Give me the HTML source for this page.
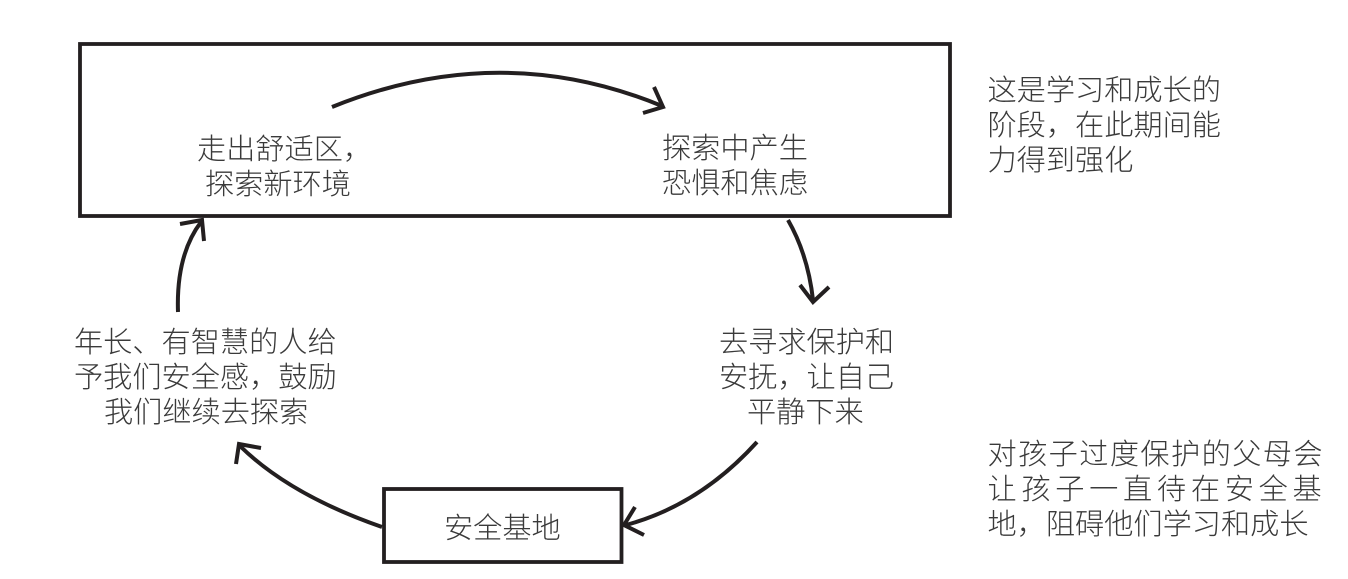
<!DOCTYPE html>
<html lang="zh">
<head>
<meta charset="utf-8">
<style>
html,body{margin:0;padding:0;background:#fff;width:1348px;height:579px;overflow:hidden}
svg{display:block}
text{font-family:"Liberation Sans","Noto Sans CJK SC",sans-serif;font-size:29.2px;font-weight:300;fill:#3a3a3a}
.l{fill:none;stroke:#231f20;stroke-width:4}
.b{fill:none;stroke:#231f20;stroke-width:3.8}
</style>
</head>
<body>
<svg width="1348" height="579" viewBox="0 0 1348 579" xmlns="http://www.w3.org/2000/svg">
<rect class="b" x="80" y="44" width="870" height="172"/>
<rect class="b" x="384" y="489" width="237.500" height="73"/>

<path class="l" d="M332 107Q500 39 662 106"/>
<path class="l" d="M654 87L663 107L643 113"/>
<path class="l" d="M788 220Q808 255 813 300"/>
<path class="l" d="M800 285L813 302L829 287"/>
<path class="l" d="M757 442Q700 505 626 525"/>
<path class="l" d="M635 507L624 525L644 535"/>
<path class="l" d="M382 527Q290 495 240 446"/>
<path class="l" d="M236 464L239 444L261 448"/>
<path class="l" d="M178 312Q176 255 201 222"/>
<path class="l" d="M180 224L202 220L204 241"/>

<text x="197" y="159">走出舒适区&#xFF0C;</text>
<text x="205" y="194">探索新环境</text>
<text x="662" y="158">探索中产生</text>
<text x="662" y="193">恐惧和焦虑</text>
<text x="74" y="352">年长、有智慧的人给</text>
<text x="74" y="387">予我们安全感&#xFF0C;鼓励</text>
<text x="104" y="422">我们继续去探索</text>
<text x="719" y="352">去寻求保护和</text>
<text x="719" y="387">安抚&#xFF0C;让自己</text>
<text x="747" y="422">平静下来</text>
<text x="444" y="538">安全基地</text>
<text x="987.500" y="100">这是学习和成长的</text>
<text x="987.500" y="135">阶段&#xFF0C;在此期间能</text>
<text x="987.500" y="170">力得到强化</text>
<text x="987.500" y="464" letter-spacing="1.4">对孩子过度保护的父母会</text>
<text x="987.500" y="499" letter-spacing="4.7">让孩子一直待在安全基</text>
<text x="987.500" y="534">地&#xFF0C;阻碍他们学习和成长</text>
</svg>
</body>
</html>
